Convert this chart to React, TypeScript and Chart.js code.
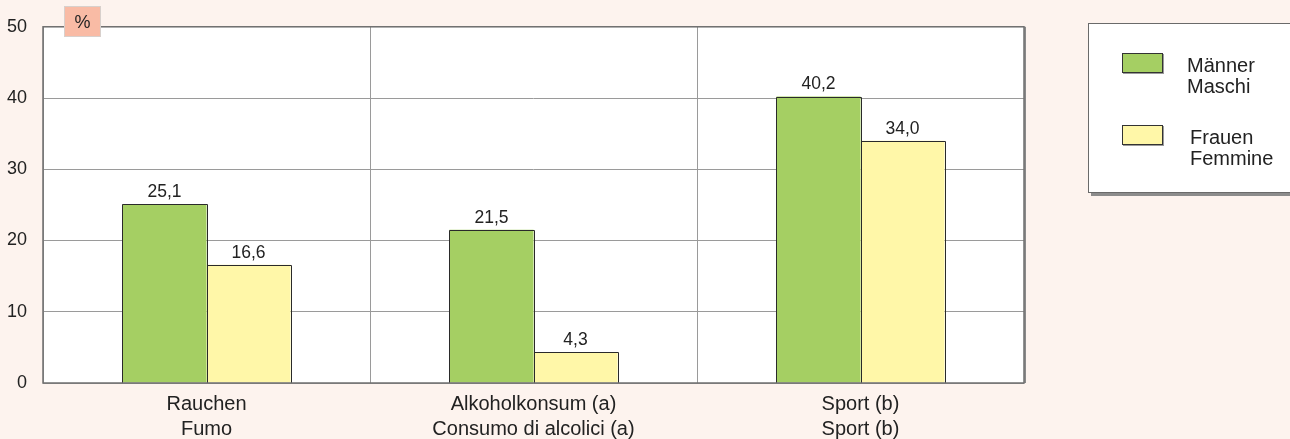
import React, { useEffect, useRef } from "react";
import { Chart, registerables } from "chart.js";

Chart.register(...registerables);

const categories: string[][] = [
  ["Rauchen", "Fumo"],
  ["Alkoholkonsum (a)", "Consumo di alcolici (a)"],
  ["Sport (b)", "Sport (b)"],
];
const menValues = [25.1, 21.5, 40.2];
const womenValues = [16.6, 4.3, 34.0];
const menLegend = ["Männer", "Maschi"];
const womenLegend = ["Frauen", "Femmine"];
const yTicks = [0, 10, 20, 30, 40, 50];
const unitLabel = "%";

const FONT = "'Liberation Sans', Arial, Helvetica, sans-serif";
const PAGE_BG = "#FDF3EE";
const GREEN = "#A5CF63";
const YELLOW = "#FFF7A8";
const TEXT = "#222222";

const W = 1290;
const H = 439;

export default function App() {
  const ref = useRef<HTMLCanvasElement | null>(null);

  useEffect(() => {
    document.body.style.margin = "0";
    document.body.style.background = PAGE_BG;
    const canvas = ref.current;
    if (!canvas) return;

    const bgPlugin = {
      id: "bgPlugin",
      beforeDraw(chart: any) {
        const { ctx, chartArea: a } = chart;
        ctx.save();
        ctx.fillStyle = PAGE_BG;
        ctx.fillRect(0, 0, chart.width, chart.height);
        ctx.fillStyle = "#ffffff";
        ctx.fillRect(a.left, a.top, a.right - a.left, a.bottom - a.top);
        ctx.restore();
      },
    };

    const labelPlugin = {
      id: "labelPlugin",
      afterDatasetsDraw(chart: any) {
        const { ctx } = chart;
        ctx.save();
        ctx.font = `17.5px ${FONT}`;
        ctx.fillStyle = TEXT;
        ctx.textAlign = "center";
        ctx.textBaseline = "middle";
        chart.data.datasets.forEach((ds: any, di: number) => {
          const meta = chart.getDatasetMeta(di);
          meta.data.forEach((bar: any, i: number) => {
            const v = ds.data[i] as number;
            ctx.fillText(v.toFixed(1).replace(".", ","), bar.x, bar.y - 12);
          });
        });
        ctx.restore();
      },
    };

    const framePlugin = {
      id: "framePlugin",
      afterDraw(chart: any) {
        const { ctx, chartArea: a } = chart;
        ctx.save();
        // bar outlines (crisp)
        ctx.strokeStyle = "#2a2a2a";
        ctx.lineWidth = 1;
        chart.data.datasets.forEach((_ds: any, di: number) => {
          const meta = chart.getDatasetMeta(di);
          meta.data.forEach((bar: any) => {
            const half = bar.width / 2;
            const l = Math.round(bar.x - half) + 0.5;
            const r = Math.round(bar.x + half) + 0.5;
            const t = Math.round(bar.y) + 0.5;
            const b = Math.round(bar.base);
            ctx.beginPath();
            ctx.moveTo(l, b);
            ctx.lineTo(l, t);
            ctx.lineTo(r, t);
            ctx.lineTo(r, b);
            ctx.stroke();
          });
        });

        // frame
        ctx.strokeStyle = "#6f6f6f";
        ctx.lineWidth = 1.5;
        ctx.strokeRect(a.left, a.top, a.right - a.left, a.bottom - a.top);
        ctx.strokeStyle = "#8a8a8a";
        ctx.lineWidth = 1;
        ctx.beginPath();
        ctx.moveTo(a.right + 1.5, a.top);
        ctx.lineTo(a.right + 1.5, a.bottom);
        ctx.stroke();

        // unit box
        const bx = 64, by = 6, bw = 37, bh = 31;
        ctx.fillStyle = "#F9BBA5";
        ctx.fillRect(bx, by, bw, bh);
        ctx.strokeStyle = "#d8d0cc";
        ctx.lineWidth = 1;
        ctx.strokeRect(bx + 0.5, by + 0.5, bw - 1, bh - 1);
        ctx.fillStyle = TEXT;
        ctx.font = `18px ${FONT}`;
        ctx.textAlign = "center";
        ctx.textBaseline = "middle";
        ctx.fillText(unitLabel, bx + bw / 2, 23);

        // legend box
        const lx = 1088, ly = 23, lw = 210, lh = 170;
        ctx.fillStyle = "#8c8c8c";
        ctx.fillRect(lx + 3, ly + 3, lw, lh);
        ctx.fillStyle = "#ffffff";
        ctx.fillRect(lx, ly, lw, lh);
        ctx.strokeStyle = "#6a6a6a";
        ctx.lineWidth = 1;
        ctx.strokeRect(lx + 0.5, ly + 0.5, lw, lh - 1);

        const items = [
          { color: GREEN, lines: menLegend, sy: 53, tx: 1187, ty: 66 },
          { color: YELLOW, lines: womenLegend, sy: 125, tx: 1190, ty: 138 },
        ];
        items.forEach((it) => {
          ctx.fillStyle = "#9a9a9a";
          ctx.fillRect(1123, it.sy + 1, 41, 20);
          ctx.fillStyle = it.color;
          ctx.fillRect(1122, it.sy, 41, 20);
          ctx.strokeStyle = "#333333";
          ctx.strokeRect(1122.5, it.sy + 0.5, 40, 19);
          ctx.fillStyle = TEXT;
          ctx.font = `20px ${FONT}`;
          ctx.textAlign = "left";
          ctx.textBaseline = "middle";
          it.lines.forEach((t, k) => ctx.fillText(t, it.tx, it.ty + k * 21));
        });
        ctx.restore();
      },
    };

    const chart = new Chart(canvas, {
      type: "bar",
      data: {
        labels: categories,
        datasets: [
          {
            label: menLegend.join(" "),
            data: menValues,
            backgroundColor: GREEN,
            borderWidth: 0,
          },
          {
            label: womenLegend.join(" "),
            data: womenValues,
            backgroundColor: YELLOW,
            borderWidth: 0,
          },
        ],
      },
      options: {
        responsive: false,
        animation: false,
        layout: { padding: { left: 0, right: W - 1024, top: 24, bottom: 0 } },
        datasets: {
          bar: { categoryPercentage: 0.514, barPercentage: 1 },
        },
        plugins: {
          legend: { display: false },
          tooltip: { enabled: false },
        },
        scales: {
          x: {
            grid: { color: "#9a9a9a", lineWidth: 1, drawTicks: false, offset: true },
            border: { display: false },
            ticks: {
              color: TEXT,
              font: { family: FONT, size: 20, lineHeight: 1.25 },
              padding: 9,
              maxRotation: 0,
              autoSkip: false,
            },
            afterFit(scale: any) {
              scale.height = 56;
            },
          },
          y: {
            min: 0,
            max: 50,
            afterBuildTicks(scale: any) {
              scale.ticks = yTicks.map((v) => ({ value: v }));
            },
            grid: { color: "#9a9a9a", lineWidth: 1, drawTicks: false },
            border: { display: false },
            ticks: {
              color: TEXT,
              font: { family: FONT, size: 18 },
              padding: 16,
            },
            afterFit(scale: any) {
              scale.width = 43;
            },
          },
        },
      },
      plugins: [bgPlugin, labelPlugin, framePlugin],
    });

    return () => chart.destroy();
  }, []);

  return (
    <div style={{ width: W, height: H, background: PAGE_BG }}>
      <canvas ref={ref} width={W} height={H} style={{ display: "block" }} />
    </div>
  );
}
